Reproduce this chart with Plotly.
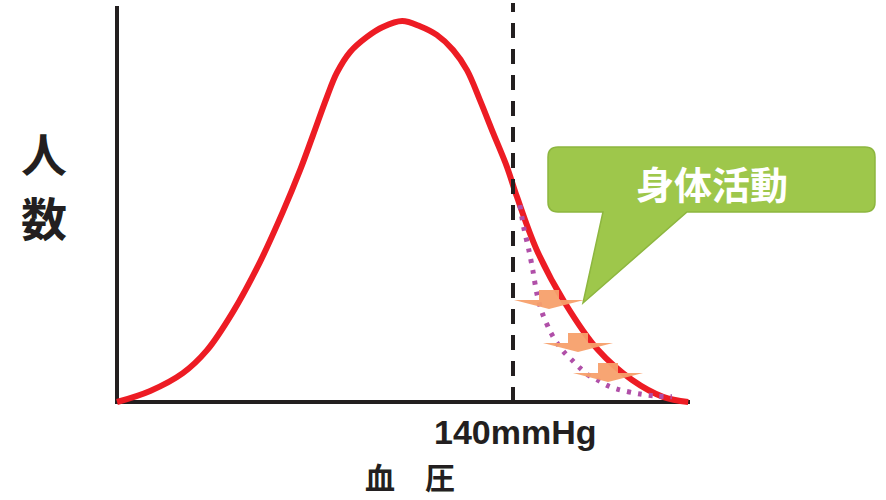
import plotly.graph_objects as go

# ---------------- data ----------------
bp_curve = [60.0, 66.7, 73.3, 78.2, 83.4, 88.9, 93.5, 97.0, 99.6, 102.4, 104.4, 107.1,
            110.5, 113.7, 117.6, 121.2, 124.6, 127.9, 130.7, 133.3, 136.0, 138.8, 140.8,
            144.8, 150.5, 157.2, 164.0, 170.3, 175.4]
count_curve = [0, 2.8, 7.3, 13.1, 22.7, 35.4, 48.0, 58.6, 67.4, 77.0, 83.1, 88.4,
               92.2, 94.7, 96.2, 94.9, 92.7, 88.9, 83.8, 76.3, 67.9, 59.3, 51.8,
               38.4, 25.0, 13.1, 5.6, 1.3, 0]

bp_improved = [141.4, 142.2, 143.2, 144.0, 144.8, 145.9, 147.7, 148.9, 150.3, 151.9,
               153.5, 155.2, 157.0, 159.0, 161.2, 165.7, 169.1, 172.1]
count_improved = [49.7, 43.9, 38.4, 33.3, 27.5, 22.5, 17.4, 14.9, 12.6, 10.6,
                  8.6, 6.8, 5.6, 4.2, 3.2, 2.0, 1.5, 1.3]

threshold_bp = 140
threshold_label = "140mmHg"
x_label = "血　圧"
y_label_chars = ["人", "数"]
callout_text = "身体活動"

# ---------------- geometry helpers (pixel -> data) ----------------
W, H = 886, 500
SX, SY = 4.95, 3.96          # pixels per data unit
PX0, PY0 = 117, 402          # pixel position of origin (60 mmHg, 0)
X0 = 60


def dx(px):
    return X0 + (px - PX0) / SX


def dy(py):
    return (PY0 - py) / SY


def P(cmd, px, py):
    return f"{cmd} {dx(px):.4f},{dy(py):.4f}"


def Q(cx, cy, px, py):
    return f"Q {dx(cx):.4f},{dy(cy):.4f} {dx(px):.4f},{dy(py):.4f}"


fig = go.Figure()

fig.add_trace(go.Scatter(
    x=bp_curve, y=count_curve, mode="lines",
    line=dict(color="#ED1C24", width=6, shape="spline", smoothing=1.0),
    hoverinfo="skip", showlegend=False))

fig.add_trace(go.Scatter(
    x=bp_improved, y=count_improved, mode="lines",
    line=dict(color="#B04FA8", width=5, shape="spline", smoothing=0.8, dash="4px,7px"),
    hoverinfo="skip", showlegend=False))

shapes = []
AX = "#231F20"
# axes
shapes.append(dict(type="line", xref="x", yref="y", x0=X0, y0=dy(403), x1=X0, y1=dy(6),
                   line=dict(color=AX, width=4), layer="below"))
shapes.append(dict(type="line", xref="x", yref="y", x0=dx(115), y0=0, x1=dx(690), y1=0,
                   line=dict(color=AX, width=4), layer="below"))
# threshold dashed line
shapes.append(dict(type="line", xref="x", yref="y", x0=threshold_bp, y0=0, x1=threshold_bp, y1=dy(3),
                   line=dict(color=AX, width=4, dash="15px,11px"), layer="above"))

# orange down arrows
for cx, top in [(549, 290), (578, 333), (608, 363)]:
    pts = [P("M", cx - 10, top), P("L", cx + 10, top), P("L", cx + 10, top + 10),
           P("L", cx + 35, top + 10), P("L", cx, top + 19), P("L", cx - 35, top + 10),
           P("L", cx - 10, top + 10)]
    shapes.append(dict(type="path", xref="x", yref="y", path=" ".join(pts) + " Z",
                       fillcolor="#F7A06C", line=dict(width=0), opacity=0.95, layer="above"))

# callout
L, R, T, B, r = 548, 875, 147, 212, 10
pts = [P("M", L + r, T), P("L", R - r, T), Q(R, T, R, T + r),
       P("L", R, B - r), Q(R, B, R - r, B),
       P("L", 687, B), P("L", 583, 303), P("L", 603, B),
       P("L", L + r, B), Q(L, B, L, B - r),
       P("L", L, T + r), Q(L, T, L + r, T)]
shapes.append(dict(type="path", xref="x", yref="y", path=" ".join(pts) + " Z",
                   fillcolor="#9EC74B", line=dict(color="#8DB63F", width=1.5), layer="above"))

annotations = [
    dict(x=dx(712), y=dy(182), xref="x", yref="y", text=callout_text, showarrow=False,
         font=dict(family="Noto Sans CJK JP", size=38, color="white", weight="bold")),
    dict(x=dx(515), y=dy(432), xref="x", yref="y", text=threshold_label,
         showarrow=False,
         font=dict(family="Liberation Sans, Arial", size=34, color=AX, weight="bold")),
    dict(x=dx(410), y=dy(499), xref="x", yref="y", yanchor="bottom", text=x_label,
         showarrow=False, borderpad=0,
         font=dict(family="Noto Sans CJK JP", size=30, color=AX, weight="bold")),
]
for ch, py in zip(y_label_chars, [152, 216]):
    annotations.append(dict(x=dx(44), y=dy(py), xref="x", yref="y", text=ch, showarrow=False,
                            borderpad=0,
                            font=dict(family="Noto Sans CJK JP", size=46, color=AX, weight="bold")))

fig.update_layout(
    width=W, height=H, margin=dict(l=0, r=0, t=0, b=0),
    paper_bgcolor="white", plot_bgcolor="white",
    xaxis=dict(range=[dx(0), dx(W)], visible=False, fixedrange=True),
    yaxis=dict(range=[dy(H), dy(0)], visible=False, fixedrange=True),
    shapes=shapes, annotations=annotations, showlegend=False,
)

fig.write_html("out.html")
